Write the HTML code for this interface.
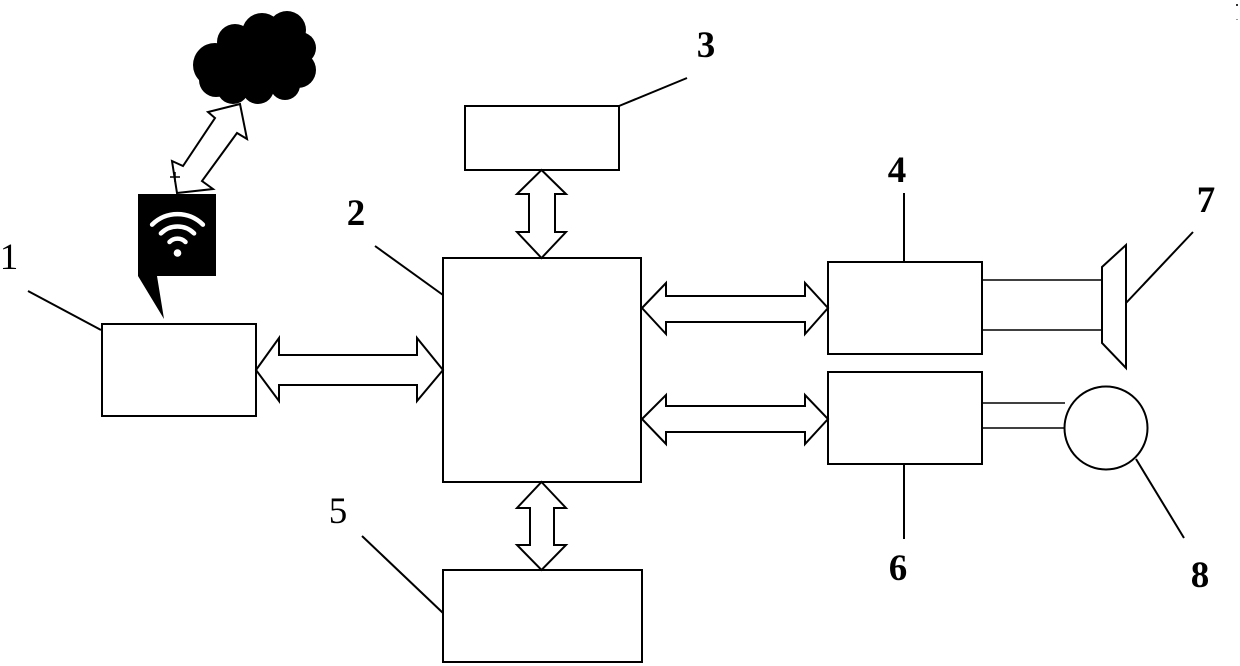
<!DOCTYPE html>
<html>
<head>
<meta charset="utf-8">
<style>
  html,body{margin:0;padding:0;background:#fff;}
  svg{display:block;}
  text{font-family:"Liberation Serif",serif;font-size:37px;fill:#000;}
</style>
</head>
<body>
<svg width="1240" height="666" viewBox="0 0 1240 666" xmlns="http://www.w3.org/2000/svg">
  <!-- diagonal double arrow to cloud -->
  <polygon points="240,104 208,112 215,118 183,166 172,161 177,193 213,189 202,181 237,133 247,139" fill="#fff" stroke="#000" stroke-width="2" stroke-linejoin="miter"/>
  <!-- small cross -->
  <line x1="170" y1="177" x2="180" y2="177" stroke="#000" stroke-width="1.5"/>
  <line x1="175" y1="172" x2="175" y2="182" stroke="#000" stroke-width="1.5"/>

  <!-- cloud -->
  <g fill="#000">
    <ellipse cx="255" cy="62" rx="45" ry="34"/>
    <circle cx="215" cy="65" r="22"/>
    <circle cx="216" cy="80" r="17"/>
    <circle cx="235" cy="42" r="18"/>
    <circle cx="262" cy="33" r="20"/>
    <circle cx="287" cy="30" r="19"/>
    <circle cx="300" cy="48" r="16"/>
    <circle cx="298" cy="70" r="18"/>
    <circle cx="285" cy="85" r="15"/>
    <circle cx="258" cy="88" r="16"/>
    <circle cx="233" cy="88" r="16"/>
  </g>

  <!-- wifi bubble -->
  <polygon points="138,194 216,194 216,276 157,276 164,319 138,276" fill="#000"/>
  <g fill="none" stroke="#fff" stroke-width="4.5" stroke-linecap="round">
    <path d="M152.1,224.6 A36,36 0 0 1 202.9,224.6"/>
    <path d="M160.9,233.4 A23.5,23.5 0 0 1 194.1,233.4"/>
    <path d="M169.5,242 A11.3,11.3 0 0 1 185.5,242"/>
  </g>
  <circle cx="177.5" cy="253" r="3.8" fill="#fff"/>

  <!-- boxes -->
  <g fill="none" stroke="#000" stroke-width="2">
    <rect x="102" y="324" width="154" height="92"/>
    <rect x="443" y="258" width="198" height="224"/>
    <rect x="465" y="106" width="154" height="64"/>
    <rect x="443" y="570" width="199" height="92"/>
    <rect x="828" y="262" width="154" height="92"/>
    <rect x="828" y="372" width="154" height="92"/>
  </g>

  <!-- double arrows -->
  <g fill="#fff" stroke="#000" stroke-width="2">
    <polygon points="256,370 279,338 279,355 417,355 417,338 443,370 417,401 417,385 279,385 279,401"/>
    <polygon points="642,308 666,283 666,296 805,296 805,283 828,308 805,334 805,322 666,322 666,334"/>
    <polygon points="642,419 666,395 666,406 805,406 805,395 828,419 805,444 805,432 666,432 666,444"/>
    <polygon points="541.5,170 566,194 555,194 555,232 566,232 541.5,258 517,232 529,232 529,194 517,194"/>
    <polygon points="541.5,482 566,508 554,508 554,545 566,545 541.5,570 517,545 530,545 530,508 517,508"/>
  </g>

  <!-- speaker connection lines -->
  <g stroke="#000" stroke-width="1.6" fill="none">
    <line x1="982" y1="280" x2="1102" y2="280"/>
    <line x1="982" y1="330" x2="1102" y2="330"/>
    <line x1="982" y1="403" x2="1065" y2="403"/>
    <line x1="982" y1="428" x2="1065" y2="428"/>
  </g>
  <!-- speaker -->
  <polygon points="1102,267 1126,245 1126,368 1102,343" fill="#fff" stroke="#000" stroke-width="2"/>
  <!-- motor circle -->
  <circle cx="1106" cy="428" r="41.5" fill="#fff" stroke="#000" stroke-width="2"/>

  <!-- leader lines -->
  <g stroke="#000" stroke-width="2" fill="none">
    <line x1="101" y1="330" x2="28" y2="291"/>
    <line x1="443" y1="295" x2="375" y2="246"/>
    <line x1="619" y1="106" x2="687" y2="78"/>
    <line x1="904" y1="193" x2="904" y2="262"/>
    <line x1="1126" y1="303" x2="1193" y2="232"/>
    <line x1="443" y1="613" x2="362" y2="536"/>
    <line x1="904" y1="464" x2="904" y2="539"/>
    <line x1="1136" y1="459" x2="1184" y2="538"/>
  </g>

  <!-- labels -->
  <text x="9" y="269" text-anchor="middle">1</text>
  <text x="356" y="225" text-anchor="middle" font-weight="bold">2</text>
  <text x="706" y="57" text-anchor="middle" font-weight="bold">3</text>
  <text x="897" y="182" text-anchor="middle" font-weight="bold">4</text>
  <text x="338" y="523" text-anchor="middle">5</text>
  <text x="898" y="580" text-anchor="middle" font-weight="bold">6</text>
  <text x="1206" y="212" text-anchor="middle" font-weight="bold">7</text>
  <text x="1200" y="587" text-anchor="middle" font-weight="bold">8</text>

  <!-- faint marks top right -->
  <rect x="1236" y="4" width="2" height="2" fill="#333"/>
  <rect x="1236" y="19" width="2" height="1" fill="#999"/>
</svg>
</body>
</html>
